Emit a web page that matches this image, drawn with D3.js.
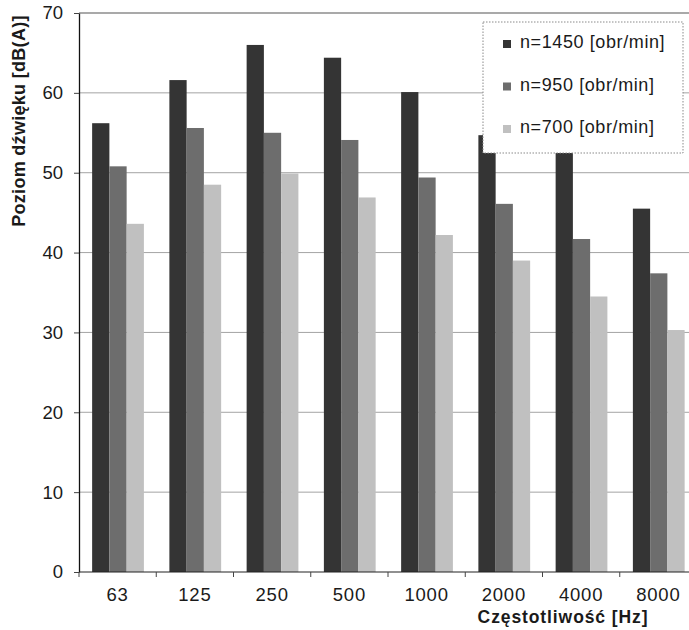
<!DOCTYPE html>
<html>
<head>
<meta charset="utf-8">
<script src="https://cdn.jsdelivr.net/npm/d3@7"></script>
<style>
  html, body { margin: 0; padding: 0; background: #fff; }
  svg { display: block; font-family: "Liberation Sans", Arial, sans-serif; }
</style>
</head>
<body>
<svg id="chart" width="689" height="630"></svg>
<script>
// Frequency bands (Hz)
const categories = ["63", "125", "250", "500", "1000", "2000", "4000", "8000"];
// Series: fan speed
const seriesNames = ["n=1450 [obr/min]", "n=950 [obr/min]", "n=700 [obr/min]"];
// Sound level dB(A) for each band
const n1450 = [56.2, 61.6, 66.0, 64.4, 60.1, 54.7, 53.5, 45.5];
const n950  = [50.8, 55.6, 55.0, 54.1, 49.4, 46.1, 41.7, 37.4];
const n700  = [43.6, 48.5, 49.9, 46.9, 42.2, 39.0, 34.5, 30.3];
const yTicks = [0, 10, 20, 30, 40, 50, 60, 70];

const seriesValues = [n1450, n950, n700];
const colors = ["#343434", "#6d6d6d", "#c0c0c0"];

const svg = d3.select("#chart");
const plotLeft = 79, plotRight = 697, plotTop = 13, plotBottom = 572;
const labelSize = 18.5;

const x0 = d3.scaleBand().domain(categories).range([plotLeft, plotRight]).padding(0);
const bw = x0.bandwidth();
const x1 = d3.scaleBand().domain(d3.range(seriesNames.length))
  .range([bw * 0.17, bw * 0.84]).padding(0);
const y = d3.scaleLinear().domain([0, 70]).range([plotBottom, plotTop]);

// Horizontal gridlines
svg.append("g")
  .selectAll("line")
  .data(yTicks.filter(d => d > 0))
  .join("line")
  .attr("x1", plotLeft).attr("x2", plotRight)
  .attr("y1", d => y(d)).attr("y2", d => y(d))
  .attr("stroke", d => d === 70 ? "#555" : "#9a9a9a")
  .attr("stroke-width", d => d === 70 ? 1.2 : 0.9);

// Bars
const rows = categories.map((c, i) => ({ c, vals: seriesValues.map(s => s[i]) }));
svg.append("g")
  .selectAll("g")
  .data(rows)
  .join("g")
  .attr("transform", d => `translate(${x0(d.c)},0)`)
  .selectAll("rect")
  .data(d => d.vals.map((v, k) => ({ v, k })))
  .join("rect")
  .attr("x", d => x1(d.k))
  .attr("width", x1.bandwidth())
  .attr("y", d => y(d.v))
  .attr("height", d => y(0) - y(d.v))
  .attr("fill", d => colors[d.k]);

// Y axis
const yAxis = svg.append("g")
  .attr("transform", `translate(${plotLeft},0)`)
  .call(d3.axisLeft(y).tickValues(yTicks).tickSize(5).tickPadding(11).tickSizeOuter(0));
yAxis.select(".domain").attr("stroke", "#111").attr("stroke-width", 1.3);
yAxis.selectAll(".tick line").attr("stroke", "#444");
yAxis.selectAll("text").attr("font-size", labelSize).attr("fill", "#1a1a1a")
  .attr("font-family", "'Liberation Sans', Arial, sans-serif");

// X axis with ticks between categories
const xAxis = svg.append("g").attr("transform", `translate(0,${plotBottom})`);
xAxis.append("line").attr("x1", plotLeft).attr("x2", plotRight)
  .attr("stroke", "#222").attr("stroke-width", 1.2);
xAxis.selectAll("line.tk")
  .data(categories)
  .join("line")
  .attr("class", "tk")
  .attr("x1", d => x0(d)).attr("x2", d => x0(d))
  .attr("y1", 0).attr("y2", 5)
  .attr("stroke", "#444");
xAxis.selectAll("text")
  .data(categories)
  .join("text")
  .attr("x", d => x0(d) + bw / 2)
  .attr("y", 28.5)
  .attr("text-anchor", "middle")
  .attr("font-size", labelSize)
  .attr("letter-spacing", 0.8)
  .attr("fill", "#1a1a1a")
  .text(d => d);

// Axis titles
svg.append("text")
  .attr("x", 563).attr("y", 622.5)
  .attr("text-anchor", "middle")
  .attr("font-size", 17.5).attr("font-weight", "bold").attr("letter-spacing", 0.9)
  .attr("fill", "#1a1a1a")
  .text("Częstotliwość [Hz]");
svg.append("text")
  .attr("transform", "translate(25,121) rotate(-90)")
  .attr("text-anchor", "middle")
  .attr("font-size", 18).attr("font-weight", "bold").attr("letter-spacing", 0.3)
  .attr("fill", "#1a1a1a")
  .text("Poziom dźwięku [dB(A)]");

// Legend
const legend = svg.append("g");
legend.append("rect")
  .attr("x", 483).attr("y", 22).attr("width", 200).attr("height", 131)
  .attr("fill", "#fff").attr("stroke", "#8a8a8a").attr("stroke-width", 1)
  .attr("stroke-dasharray", "1.5,1.5");
const li = legend.selectAll("g.item")
  .data(seriesNames)
  .join("g")
  .attr("class", "item")
  .attr("transform", (d, i) => `translate(503,${48 + i * 42.5})`);
li.append("rect").attr("x", 0).attr("y", -8).attr("width", 8).attr("height", 8)
  .attr("fill", (d, i) => colors[i]);
li.append("text").attr("x", 17).attr("y", 0)
  .attr("font-size", 18).attr("letter-spacing", 0.6).attr("fill", "#1a1a1a")
  .text(d => d);
</script>
</body>
</html>
